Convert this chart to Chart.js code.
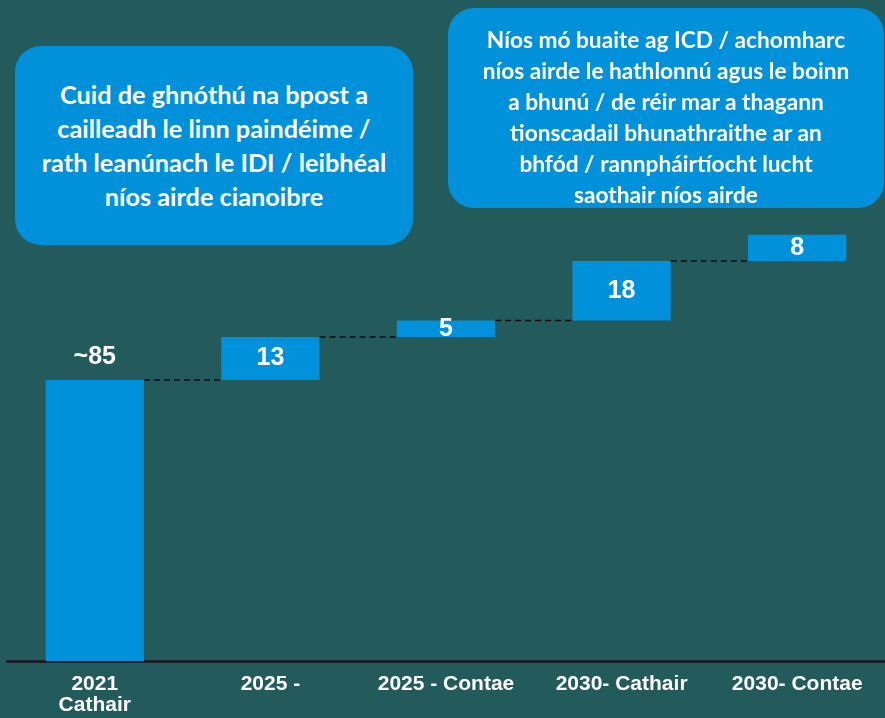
<!DOCTYPE html>
<html>
<head>
<meta charset="utf-8">
<script src="https://cdn.jsdelivr.net/npm/chart.js@4"></script>
<style>
  html, body { margin: 0; padding: 0; background: #235b5c; }
  #wrap { position: relative; width: 885px; height: 718px; overflow: hidden; }
  #myChart { position: absolute; left: 0; top: 0; }
  .note {
    position: absolute;
    background: #0091da;
    border-radius: 26px;
    color: #fff;
    font-family: Lato, "Open Sans", sans-serif;
    font-weight: bold;
    text-align: center;
    display: flex;
    align-items: center;
    justify-content: center;
    box-sizing: border-box;
    white-space: nowrap;
  }
  #noteLeft { left: 15px; top: 46px; width: 398px; height: 199px; font-size: 25.3px; line-height: 34px; padding: 0 0 2px 0; }
  #noteRight { left: 448px; top: 8px; width: 436px; height: 200px; font-size: 22.7px; line-height: 31px; padding: 18px 0 0 0; }
</style>
</head>
<body>
<div id="wrap">
  <canvas id="myChart" width="885" height="718"></canvas>
  <div class="note" id="noteLeft">Cuid de ghnóthú na bpost a<br>cailleadh le linn paindéime /<br>rath leanúnach le IDI / leibhéal<br>níos airde cianoibre</div>
  <div class="note" id="noteRight">Níos mó buaite ag ICD / achomharc<br>níos airde le hathlonnú agus le boinn<br>a bhunú / de réir mar a thagann<br>tionscadail bhunathraithe ar an<br>bhfód / rannpháirtíocht lucht<br>saothair níos airde</div>
</div>
<script>
'use strict';

let categories = [['2021', 'Cathair'], '2025 -', '2025 - Contae', '2030- Cathair', '2030- Contae'];
let steps = [85, 13, 5, 18, 8];
let valueLabels = ['~85', '13', '5', '18', '8'];

// waterfall: each bar floats from the running total to the new total
let floating = [];
let total = 0;
for (let i = 0; i < steps.length; i++) {
    floating.push([total, total + steps[i]]);
    total += steps[i];
}

let barBlue = '#0091da';

let waterfallExtras = {
    id: 'waterfallExtras',
    afterDatasetsDraw(chart) {
        let ctx = chart.ctx;
        let meta = chart.getDatasetMeta(0);
        let yScale = chart.scales.y;

        // dashed connectors between neighbouring bars
        ctx.save();
        ctx.strokeStyle = '#0d0d14';
        ctx.lineWidth = 1.5;
        ctx.setLineDash([6, 4]);
        for (let i = 0; i < meta.data.length - 1; i++) {
            let bar = meta.data[i];
            let next = meta.data[i + 1];
            let y = yScale.getPixelForValue(floating[i][1]);
            ctx.beginPath();
            ctx.moveTo(bar.x + bar.width / 2, y);
            ctx.lineTo(next.x - next.width / 2, y);
            ctx.stroke();
        }
        ctx.restore();

        // value labels
        ctx.save();
        ctx.fillStyle = '#fff';
        ctx.font = 'bold 25px "Liberation Sans", Arial, sans-serif';
        ctx.textAlign = 'center';
        ctx.textBaseline = 'middle';
        for (let i = 0; i < meta.data.length; i++) {
            let bar = meta.data[i];
            let top = yScale.getPixelForValue(floating[i][1]);
            let bottom = yScale.getPixelForValue(floating[i][0]);
            let y = i === 0 ? top - 23 : (top + bottom) / 2;
            ctx.fillText(valueLabels[i], bar.x, y);
        }
        ctx.restore();
    }
};

let ctx = document.getElementById('myChart').getContext('2d');
let myChart = new Chart(ctx, {
    type: 'bar',
    data: {
        labels: categories,
        datasets: [{
            data: floating,
            backgroundColor: barBlue,
            borderWidth: 0,
            barPercentage: 0.56,
            categoryPercentage: 1
        }]
    },
    options: {
        responsive: false,
        animation: false,
        layout: { padding: { left: 7, right: 0, top: 0, bottom: 0 } },
        plugins: {
            legend: { display: false },
            tooltip: { enabled: false }
        },
        scales: {
            x: {
                // fixed band under the baseline; the second line of the first label runs off the bottom
                afterFit(scale) { scale.height = 57; },
                grid: { display: false },
                border: { display: true, color: '#1c1f2a', width: 3 },
                ticks: {
                    color: '#fff',
                    padding: 5,
                    maxRotation: 0,
                    autoSkip: false,
                    font: { family: '"Liberation Sans", Arial, sans-serif', size: 21, weight: 'bold', lineHeight: 1.0 }
                }
            },
            y: {
                display: false,
                min: 0,
                max: 200
            }
        }
    },
    plugins: [waterfallExtras]
});
</script>
</body>
</html>
